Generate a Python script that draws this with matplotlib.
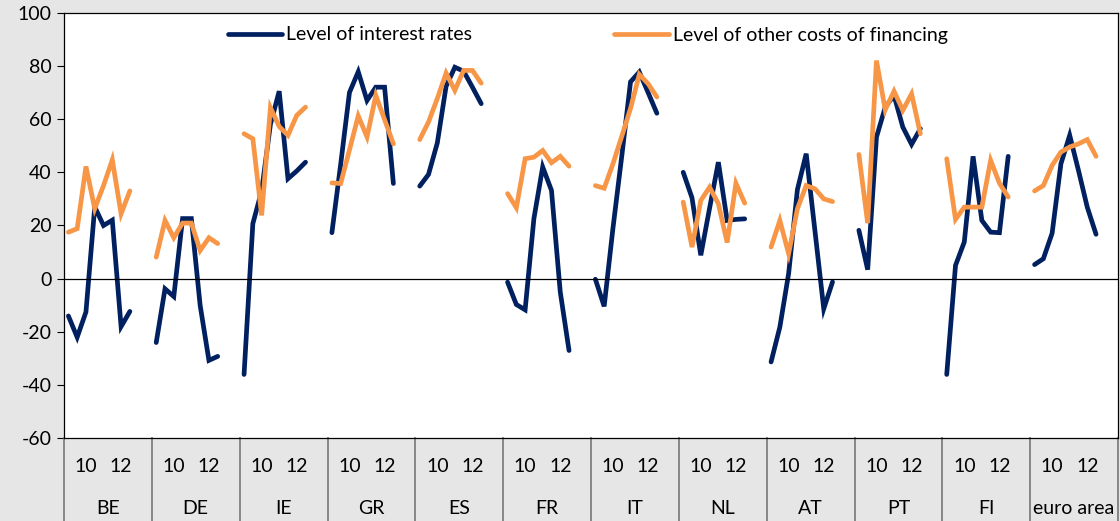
import matplotlib
matplotlib.use("Agg")
import matplotlib.pyplot as plt
import numpy as np

plt.rcParams['font.family'] = ['Lato', 'DejaVu Sans']
plt.rcParams['axes.unicode_minus'] = False

groups = ["BE", "DE", "IE", "GR", "ES", "FR", "IT", "NL", "AT", "PT", "FI", "euro area"]
tick_labels = ["10", "12"]

interest_rates = {
    "BE": [-14, -22, -12.5, 27, 20, 22, -18, -12.3],
    "DE": [-24, -3.8, -6.7, 22.6, 22.6, -10, -30.7, -29.2],
    "IE": [-36, 20.7, 33, 58, 70.5, 37.6, 40.5, 43.8],
    "GR": [17.3, 43, 70, 77.8, 67, 72, 72, 35.8],
    "ES": [34.8, 39.2, 51, 72.3, 79.5, 78, 72, 65.8],
    "FR": [-1.3, -9.7, -11.7, 22.6, 42, 33.2, -5, -27],
    "IT": [-0.2, -10.4, 19, 46, 74, 77.7, 70, 62.2],
    "NL": [40, 30.4, 8.8, 26.5, 43.8, 21.9, 22.3, 22.5],
    "AT": [-31.3, -18.2, 1.9, 33.5, 47, 17.9, -11.3, -1.2],
    "PT": [18.2, 3.4, 53.2, 64.5, 68.9, 57, 50.5, 56.4],
    "FI": [-36, 5, 13.8, 46, 21.9, 17.5, 17.3, 46],
    "euro area": [5.3, 7.5, 17.1, 43.2, 53.9, 40.7, 26.9, 16.7],
}

other_costs = {
    "BE": [17.5, 18.8, 42.2, 26.3, 35, 44.7, 24.4, 33],
    "DE": [8.1, 21.9, 15.4, 20.9, 20.9, 10.6, 15.4, 13.2],
    "IE": [54.5, 52.6, 23.8, 64.3, 57.2, 53.9, 61.4, 64.5],
    "GR": [36, 35.8, 48.4, 61.2, 53.3, 68.9, 59.8, 50.7],
    "ES": [52.3, 58.9, 67.7, 77.3, 70.8, 78.3, 78.3, 73.5],
    "FR": [32, 26.7, 45.1, 45.7, 48.2, 43.6, 46, 42.3],
    "IT": [35, 34, 43.2, 53.5, 64, 76.8, 73.3, 68.3],
    "NL": [28.8, 11.9, 29.4, 34.4, 28.2, 13.6, 35.9, 28.4],
    "AT": [11.9, 21.9, 9.4, 26.3, 35, 33.8, 30, 29],
    "PT": [46.7, 20.9, 82, 63.5, 70.5, 63.3, 69.5, 54.5],
    "FI": [45.1, 22.3, 26.9, 26.9, 26.9, 44.5, 35.9, 30.7],
    "euro area": [33, 35, 42.6, 47.6, 49.5, 50.7, 52.3, 46],
}

series_names = ["Level of interest rates", "Level of other costs of financing"]

BLUE = "#002060"
ORANGE = "#F79646"
BG = "#E6E6E6"

slots_per_group = 10
tick_slots = [2, 6]
FS = 14
LW = 3.4

W, H = 1120, 521
fig = plt.figure(figsize=(W / 100, H / 100), dpi=100, facecolor=BG)
ax = fig.add_axes([64 / W, 1 - 438.3 / H, (1118 - 64) / W, (438.3 - 12.7) / H])
ax.set_facecolor("white")

handles = []
for gi, g in enumerate(groups):
    x = gi * slots_per_group + np.arange(len(interest_rates[g])) + 0.5
    h1, = ax.plot(x, interest_rates[g], color=BLUE, lw=LW, solid_capstyle='round', solid_joinstyle='miter')
    h2, = ax.plot(x, other_costs[g], color=ORANGE, lw=LW, solid_capstyle='round', solid_joinstyle='miter')
    if gi == 0:
        handles = [h1, h2]

ax.set_xlim(0, len(groups) * slots_per_group)
ax.set_ylim(-60, 100)
ax.set_yticks(np.arange(-60, 101, 20))
ax.tick_params(axis='y', direction='out', length=5, width=0.8, labelsize=FS, pad=4, color='black')
ax.set_xticks([])
ax.axhline(0, color='black', lw=0.9)
for s in ax.spines.values():
    s.set_color('black')
    s.set_linewidth(0.9)

trans = ax.get_xaxis_transform()
axh = 438.3 - 12.7
ybot = -(H - 438.3) / axh
for gi in range(len(groups) + 1):
    xs = gi * slots_per_group
    ax.plot([xs, xs], [0, ybot], transform=trans, color="#7F7F7F", lw=1.3, clip_on=False)
for gi, g in enumerate(groups):
    for ts, tl in zip(tick_slots, tick_labels):
        ax.text(gi * slots_per_group + ts + 0.5, -(466 - 438.3) / axh, tl, transform=trans,
                ha='center', va='center', fontsize=FS)
    ax.text(gi * slots_per_group + slots_per_group / 2, -(508 - 438.3) / axh, g, transform=trans,
            ha='center', va='center', fontsize=FS)

fig.legend(handles, series_names, loc='center left', bbox_to_anchor=(228 / W, 1 - 35 / H),
           ncol=2, frameon=False, fontsize=FS, handlelength=2.8, handletextpad=0.2,
           columnspacing=7.3, borderpad=0, borderaxespad=0)

fig.savefig("out.png", dpi=100, facecolor=BG)
